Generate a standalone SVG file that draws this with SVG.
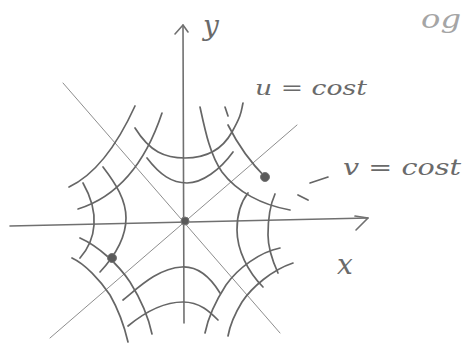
<svg xmlns="http://www.w3.org/2000/svg" width="467" height="345" viewBox="0 0 467 345">
<style>
.ax{fill:none;stroke:#707070;stroke-width:1.6;stroke-linecap:round;stroke-linejoin:round}
.dg{fill:none;stroke:#8e8e8e;stroke-width:1;stroke-linecap:round}
.cv{fill:none;stroke:#666;stroke-width:1.7;stroke-linecap:round}
.pt{fill:#5a5a5a;stroke:#777;stroke-width:1}
.lb{font-family:"DejaVu Serif","Liberation Serif",serif;font-style:italic;fill:#6a6a6a}
</style>
<rect width="467" height="345" fill="#fff"/>
<g id="axes">
<path class="ax" d="M10,226 L368,218"/>
<path class="ax" d="M355,216 L368,218 L356,230"/>
<path class="ax" d="M184,323 L183,25"/>
<path class="ax" d="M175,34 L183,25 L188,32"/>
</g>
<g id="diagonals">
<path class="dg" d="M63,83 L280,333"/>
<path class="dg" d="M50,338 L297,125"/>
</g>
<g id="curves">
<path class="cv" d="M135,106 Q106,169.5 69,187"/>
<path class="cv" d="M162,113 Q136,191 78,209"/>
<path class="cv" d="M135,128 C150,152 165,158 185,158 C205,158 222,150 232,132 S241,112 243,103"/>
<path class="cv" d="M147,158 C160,175 172,183 187,183 C202,183 220,170 233,152"/>
<path class="cv" d="M83,183 C91,197 95,212 94,225 C93,240 87,250 80,258"/>
<path class="cv" d="M103,167 C116,184 126,200 126,218 C126,238 113,258 100,272"/>
<path class="cv" d="M248,193 C240,203 237,215 237,230 C237,250 248,272 263,287"/>
<path class="cv" d="M275,194 C270,205 268,220 268,235 C268,250 273,262 278,273"/>
<path class="cv" d="M200,107 C205,130 210,155 222,172 C237,192 262,205 290,210"/>
<path class="cv" d="M228,125 C238,145 250,162 266,178"/>
<path class="cv" d="M225,107 L228,116"/>
<path class="cv" d="M280,248 C260,252 238,268 226,285 C215,302 208,318 205,333"/>
<path class="cv" d="M293,263 C272,270 252,287 242,302 C234,315 230,325 228,336"/>
<path class="cv" d="M80,238 C98,246 118,264 130,282 C140,298 148,315 152,334"/>
<path class="cv" d="M72,258 C85,264 100,280 110,295 C118,309 124,325 128,342"/>
<path class="cv" d="M123,300 C138,288 158,268 182,267 C200,266 212,280 220,293"/>
<path class="cv" d="M128,326 C145,312 163,302 183,302 C200,302 210,312 218,320"/>
<path class="cv" d="M298,195 L308,200 M310,183 L328,177"/>
</g>
<g id="points">
<circle class="pt" cx="185" cy="221" r="4"/>
<circle class="pt" cx="265" cy="177" r="4.5"/>
<circle class="pt" cx="112" cy="258" r="4.5"/>
</g>
<g id="labels">
<text class="lb" x="203" y="35" font-size="28">y</text>
<text class="lb" x="255" y="95" font-size="21" textLength="112" lengthAdjust="spacingAndGlyphs">u = cost</text>
<text class="lb" x="343" y="175" font-size="22" textLength="118" lengthAdjust="spacingAndGlyphs">v = cost</text>
<text class="lb" x="337" y="274" font-size="28">x</text>
<text class="lb" x="421" y="28" font-size="26" style="fill:#a5a5a5" textLength="40" lengthAdjust="spacingAndGlyphs">og</text>
</g>
</svg>
